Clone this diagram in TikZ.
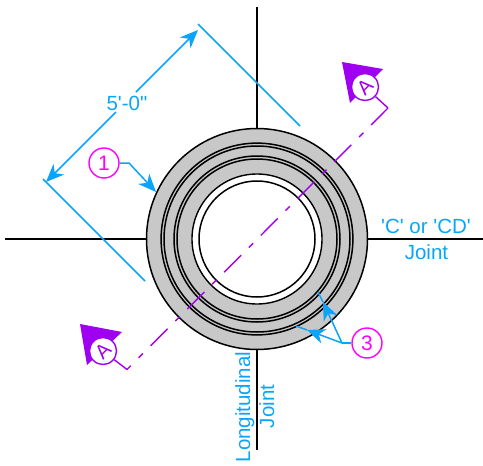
\documentclass[tikz,border=0pt]{standalone}
\usepackage{fontspec}
\setmainfont{Liberation Sans}
\newfontfamily\plainfont{Liberation Sans}
\usetikzlibrary{arrows.meta}
\definecolor{dimblue}{RGB}{10,165,250}
\definecolor{callmag}{RGB}{255,0,255}
\definecolor{secpurple}{RGB}{160,0,240}
\definecolor{ringgray}{RGB}{200,200,200}
\tikzset{
  dimline/.style={draw=dimblue,line width=1.5pt},
  dimarrow/.style={dimline,-{Stealth[length=18pt,width=15pt,inset=5.5pt,fill=dimblue]}},
  axisline/.style={draw=black,line width=1.4pt},
  ringline/.style={draw=black,line width=1.5pt},
  callout/.style={circle,draw=callmag,line width=1.4pt,minimum size=30pt,inner sep=0pt,text=callmag,font=\fontsize{21}{21}\selectfont},
  secbubble/.style={circle,draw=secpurple,fill=white,line width=1.4pt,minimum size=27pt,inner sep=0pt,text=secpurple,font=\fontsize{20}{20}\selectfont},
  secline/.style={draw=secpurple,line width=1.4pt},
  bluetxt/.style={text=dimblue,font=\plainfont\fontsize{20.5}{20.5}\selectfont,inner sep=0pt,anchor=base},
}
\begin{document}
\begin{tikzpicture}[x=1pt,y=-1pt]
\useasboundingbox (0,0) rectangle (483,466);
% axes
\coordinate (ct) at (257,7); \coordinate (cb) at (257,450);
\coordinate (cl) at (5,239); \coordinate (cr) at (483,239);
\draw[axisline] (ct) -- (cb);
\draw[axisline] (cl) -- (cr);
% rings
\fill[ringgray,draw=black,line width=1.5pt] (257,239) circle (110.5pt);
\draw[ringline] (257,239) circle (95.9pt);
\draw[ringline] (257,239) circle (93pt);
\draw[ringline] (257,239) circle (83pt);
\draw[ringline] (257,239) circle (80pt);
\fill[white,draw=black,line width=1.4pt] (257,239) circle (65pt);
\draw[ringline] (257,239) circle (58pt);
% dimension
\coordinate (e1a) at (198,24); \coordinate (e1b) at (300,126);
\coordinate (e2a) at (43,179); \coordinate (e2b) at (145,281);
\coordinate (d1) at (198,30); \coordinate (d1m) at (136,92);
\coordinate (d2) at (46,182); \coordinate (d2m) at (116,112);
\draw[dimline] (e1a) -- (e1b);
\draw[dimline] (e2a) -- (e2b);
\draw[dimarrow] (d1m) -- (d1);
\draw[dimarrow] (d2m) -- (d2);
\node[bluetxt] (dimt) at (127,110.5) {5'-0"};
% callout 1
\node[callout] (c1) at (104,163) {1};
\coordinate (c1k) at (129,163); \coordinate (c1t) at (156,192);
\draw[dimarrow] (c1) -- (c1k) -- (c1t);
% callout 3
\node[callout] (c3) at (367,343) {3};
\coordinate (c3k) at (342,343);
\coordinate (c3a) at (323,302); \coordinate (c3ae) at (318,292);
\coordinate (c3b) at (307,330); \coordinate (c3be) at (296,326);
\draw[dimline] (c3) -- (c3k);
\draw[dimarrow] (c3k) -- (c3a);
\draw[dimarrow] (c3k) -- (c3b);
\draw[dimline] (c3a) -- (c3ae);
\draw[dimline] (c3b) -- (c3be);
% section
\coordinate (s1) at (388,108); \coordinate (s2) at (127,369.5);
\draw[secline,dash pattern=on 24pt off 11pt on 6pt off 11pt] (s1) -- (s2);
\fill[secpurple] (342,62) -- (383,69) -- (350,103) -- cycle;
\fill[secpurple] (80,324) -- (122,332) -- (87,365) -- cycle;
\node[secbubble,rotate=45] (a1) at (365,87) {A};
\node[secbubble,rotate=45] (a2) at (103,351) {A};
\draw[secline] (a1) -- (s1);
\draw[secline] (a2) -- (s2);
% labels
\node[bluetxt] (cj) at (426,233) {'C' or 'CD'};
\node[bluetxt] (jj) at (426.5,259) {Joint};
\node[bluetxt,rotate=90] (ll) at (250,407) {Longitudinal};
\node[bluetxt,rotate=90] (lj) at (274,406.5) {Joint};
\end{tikzpicture}
\end{document}
